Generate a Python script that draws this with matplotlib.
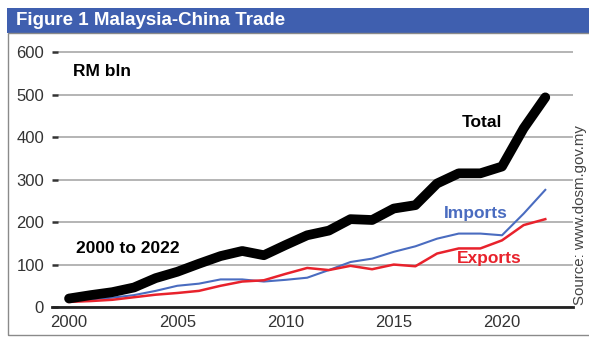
#!/usr/bin/env python3

import matplotlib
matplotlib.use('Agg')
import matplotlib.pyplot as plt
from matplotlib.patches import Rectangle

plt.rcParams['font.family'] = ['Liberation Sans', 'DejaVu Sans']

years = list(range(2000, 2023))
total = [20, 28, 35, 46, 68, 83, 102, 120, 132, 122, 146, 169, 180, 207, 205, 232, 240,
         291, 315, 315, 331, 421, 494]
imports = [16, 18, 22, 28, 38, 50, 55, 65, 65, 60, 64, 69, 87, 106, 114, 130, 143,
           161, 173, 173, 169, 220, 276]
exports = [12, 14, 17, 23, 29, 33, 38, 50, 60, 63, 78, 92, 87, 97, 89, 100, 96,
           126, 138, 138, 157, 193, 207]

yticks = [0, 100, 200, 300, 400, 500, 600]
xticks = [2000, 2005, 2010, 2015, 2020]


def main():
    fig = plt.figure(figsize=(5.89, 3.38), dpi=100)

    # title bar and frame
    fig.patches.append(Rectangle((7 / 589, 1 - 33 / 338), 1, 25 / 338, transform=fig.transFigure,
                                 facecolor='#3f5faf', edgecolor='none', zorder=0))
    fig.patches.append(Rectangle((8 / 589, 1 - 335 / 338), 1, 302 / 338, transform=fig.transFigure,
                                 facecolor='none', edgecolor='#8a8a8a', lw=1.0, zorder=0))
    fig.text(16 / 589, 1 - 20.5 / 338, 'Figure 1 Malaysia-China Trade', color='white',
             fontsize=13.5, fontweight='bold', va='center', ha='left')

    ax = fig.add_axes([58 / 589, 31 / 338, 515 / 589, 261 / 338])
    ax.set_xlim(1999.49, 2023.28)
    ax.set_ylim(0, 615)

    for s in ['top', 'right', 'left']:
        ax.spines[s].set_visible(False)
    ax.spines['bottom'].set_color('#222222')
    ax.spines['bottom'].set_linewidth(2)
    ax.spines['bottom'].set_bounds(1999.2, 2023.28)
    ax.spines['bottom'].set_clip_on(False)

    ax.set_yticks(yticks)
    ax.set_xticks(xticks)
    ax.grid(axis='y', color='#a8a8a8', lw=1.2)
    ax.set_axisbelow(True)
    ax.tick_params(axis='y', length=4, width=1.8, color='#333333', pad=6,
                   labelsize=12, labelcolor='#333333')
    ax.tick_params(axis='x', length=0, pad=6, labelsize=12, labelcolor='#333333')

    ax.plot(years, imports, color='#4a6cc0', lw=1.5, zorder=3)
    ax.plot(years, exports, color='#e8222c', lw=1.8, zorder=3)
    ax.plot(years, total, color='black', lw=7, solid_capstyle='round', zorder=4)

    ax.text(2000.2, 556, 'RM bln', fontsize=12.5, fontweight='bold', va='center')
    ax.text(2000.3, 139, '2000 to 2022', fontsize=12.5, fontweight='bold', va='center')
    ax.text(2018.15, 435, 'Total', fontsize=12.5, fontweight='bold', va='center')
    ax.text(2017.3, 221, 'Imports', fontsize=12.5, fontweight='bold', va='center', color='#4a6cc0')
    ax.text(2017.9, 115, 'Exports', fontsize=12.5, fontweight='bold', va='center', color='#e8222c')

    fig.text(580 / 589, 1 - 215 / 338, 'Source: www.dosm.gov.my', rotation=90, fontsize=10.8,
             color='#444444', ha='center', va='center')

    plt.savefig('out.png', dpi=100)


if __name__ == "__main__":
    main()
